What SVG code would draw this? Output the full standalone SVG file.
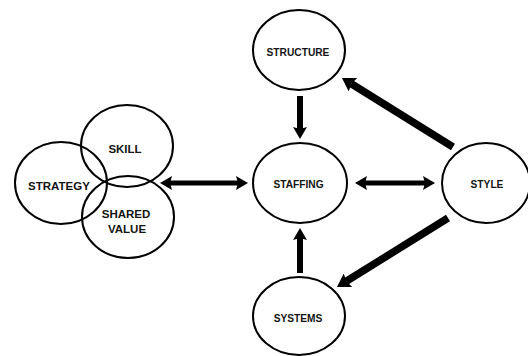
<svg xmlns="http://www.w3.org/2000/svg" width="528" height="356" viewBox="0 0 528 356">
  <style>
    .node ellipse { fill: none; stroke: #000; stroke-width: 2; }
    .node text { font-family: "Liberation Sans", Arial, sans-serif; font-weight: bold; fill: #141414; text-anchor: middle; }
    .sm { font-size: 10.2px; }
    .lg { font-size: 11.5px; }
    .conn line { stroke: #000; }
    .h { stroke-width: 5; }
    .v { stroke-width: 6; }
    .d { stroke-width: 7.5; }
  </style>
  <defs>
    <marker id="ah" viewBox="0 0 12 14" markerWidth="12" markerHeight="14" refX="2" refY="7" markerUnits="userSpaceOnUse" orient="auto-start-reverse">
      <path d="M0,0 L12,7 L0,14 L2,7 Z" fill="#000"/>
    </marker>
    <marker id="ahd" viewBox="0 0 13 16" markerWidth="13" markerHeight="16" refX="2" refY="8" markerUnits="userSpaceOnUse" orient="auto">
      <path d="M0,0 L13,8 L0,16 L2,8 Z" fill="#000"/>
    </marker>
  </defs>
  <rect width="528" height="356" fill="#fff"/>

  <g id="strategy" class="node">
    <ellipse cx="61" cy="183" rx="46" ry="41"/>
    <text class="lg" x="59" y="190">STRATEGY</text>
  </g>
  <g id="skill" class="node">
    <ellipse cx="127" cy="146" rx="46" ry="41"/>
    <text class="lg" x="125" y="153">SKILL</text>
  </g>
  <g id="shared-value" class="node">
    <ellipse cx="128" cy="217" rx="46" ry="41"/>
    <text class="lg" x="126" y="217.5">SHARED</text>
    <text class="lg" x="127" y="232.5">VALUE</text>
  </g>
  <g id="structure" class="node">
    <ellipse cx="299" cy="50" rx="46" ry="40"/>
    <text class="sm" x="298" y="55.5">STRUCTURE</text>
  </g>
  <g id="staffing" class="node">
    <ellipse cx="300" cy="183" rx="47" ry="40"/>
    <text class="sm" x="298.5" y="188">STAFFING</text>
  </g>
  <g id="style" class="node">
    <ellipse cx="486" cy="183" rx="44" ry="40"/>
    <text class="sm" x="487" y="188">STYLE</text>
  </g>
  <g id="systems" class="node">
    <ellipse cx="299" cy="316" rx="46" ry="39"/>
    <text class="sm" x="298" y="322">SYSTEMS</text>
  </g>

  <g id="connectors" class="conn">
    <line class="h" x1="170" y1="183" x2="238" y2="183" marker-start="url(#ah)" marker-end="url(#ah)"/>
    <line class="h" x1="365" y1="183" x2="425" y2="183" marker-start="url(#ah)" marker-end="url(#ah)"/>
    <line class="v" x1="300" y1="96" x2="300" y2="129" marker-end="url(#ah)"/>
    <line class="v" x1="300" y1="273" x2="300" y2="238" marker-end="url(#ah)"/>
    <line class="d" x1="453" y1="147" x2="351.3" y2="83.7" marker-end="url(#ahd)"/>
    <line class="d" x1="448" y1="218" x2="346.3" y2="281.3" marker-end="url(#ahd)"/>
  </g>
</svg>
